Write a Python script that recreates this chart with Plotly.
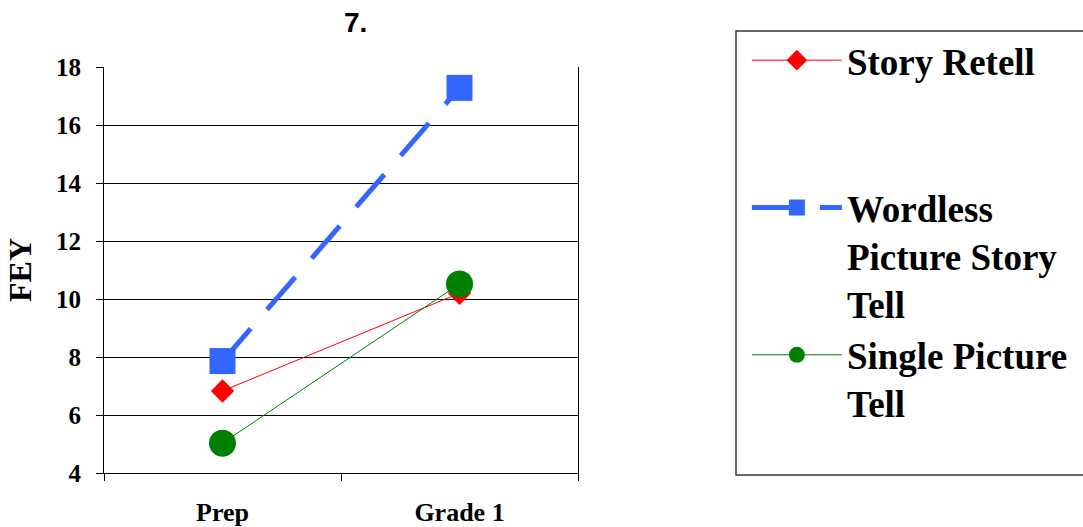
import plotly.graph_objects as go

categories = ["Prep", "Grade 1"]
story_retell = [6.83, 10.2]
wordless = [7.86, 17.28]
single_picture = [5.03, 10.52]
series_names = ["Story Retell<br> <br> ", "Wordless<br>Picture Story<br>Tell", "Single Picture<br>Tell"]
y_ticks = [4, 6, 8, 10, 12, 14, 16, 18]

serif = "Liberation Serif"

fig = go.Figure()
fig.add_trace(go.Scatter(x=categories, y=story_retell, name=series_names[0], mode="lines+markers",
                         line=dict(color="#FF0000", width=1),
                         marker=dict(symbol="diamond", size=18, color="#FF0000")))
fig.add_trace(go.Scatter(x=categories, y=wordless, name=series_names[1], mode="lines+markers",
                         line=dict(color="#3366FF", width=5, dash="43px,25px"),
                         marker=dict(symbol="square", size=26, color="#3366FF")))
fig.add_trace(go.Scatter(x=categories, y=single_picture, name=series_names[2], mode="lines+markers",
                         line=dict(color="#008000", width=1),
                         marker=dict(symbol="circle", size=27, color="#008000")))

fig.update_layout(
    width=1083, height=527,
    margin=dict(l=104, r=505, t=67, b=54, autoexpand=False),
    paper_bgcolor="white", plot_bgcolor="white",
    showlegend=True,
    legend=dict(x=1.3563, y=1.092, xanchor="left", yanchor="top",
                font=dict(family=serif, size=37, color="black", weight="bold"),
                valign="top", itemwidth=90, tracegroupgap=0, maxheight=520,
                bgcolor="rgba(0,0,0,0)", borderwidth=0),
    xaxis=dict(type="category", tickson="boundaries", ticks="outside", ticklen=7,
               tickcolor="black", showline=True, linecolor="black", linewidth=1,
               mirror=False, showgrid=False, range=[-0.5, 1.5], automargin=False,
               tickfont=dict(family=serif, size=26, color="black", weight="bold"),
               ticklabelstandoff=16),
    yaxis=dict(range=[4, 18], tickvals=y_ticks, ticks="outside", ticklen=7,
               tickcolor="black", showline=True, linecolor="black", linewidth=1,
               mirror=True, showgrid=True, gridcolor="black", gridwidth=1, zeroline=False,
               automargin=False,
               tickfont=dict(family=serif, size=25, color="black", weight="bold"),
               ticklabelstandoff=10,
               title=dict(text="FEY", font=dict(family=serif, size=32, color="black", weight="bold"),
                          standoff=14)),
)

# title
fig.add_annotation(text="7.", xref="paper", yref="paper", x=(355 - 104) / 474, y=(473 - 22) / 406,
                   showarrow=False, xanchor="center", yanchor="middle",
                   font=dict(family="Liberation Sans", size=28, color="black", weight="bold"))

# legend box
fig.add_shape(type="rect", xref="paper", yref="paper",
              x0=(736 - 104) / 474, x1=(1095 - 104) / 474,
              y0=(473 - 475) / 406, y1=(473 - 31) / 406,
              line=dict(color="#333333", width=1.5), fillcolor="rgba(0,0,0,0)", layer="below")

fig.write_html("out.html")
